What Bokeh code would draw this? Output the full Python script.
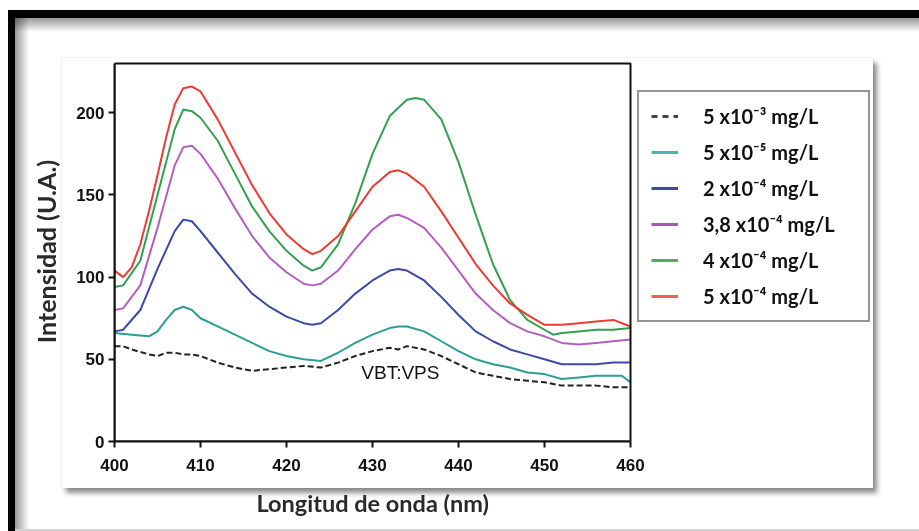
from bokeh.plotting import figure
from bokeh.models import Label, Legend, LegendItem, FixedTicker, Div, BoxAnnotation, Title
from bokeh.layouts import row
from bokeh.embed import file_html
from bokeh.resources import INLINE

# ---- data ----
x_black = [400, 401, 402, 404, 405, 406, 407, 408, 409, 410, 412, 414, 416, 418, 420, 422, 424, 426, 428, 430, 432, 433, 434, 436, 438, 440, 442, 444, 446, 448, 450, 452, 454, 456, 458, 460]
y_black = [58, 58, 56, 53, 52, 54, 54, 53, 53, 52, 48, 45, 43, 44, 45, 46, 45, 48, 52, 55, 57, 56, 58, 56, 52, 47, 42, 40, 38, 37, 36, 34, 34, 34, 33, 33]

x_teal = [400, 402, 404, 405, 406, 407, 408, 409, 410, 412, 414, 416, 418, 420, 422, 424, 426, 428, 430, 432, 433, 434, 436, 438, 440, 442, 444, 446, 448, 450, 452, 454, 456, 458, 459, 460]
y_teal = [66, 65, 64, 67, 74, 80, 82, 80, 75, 70, 65, 60, 55, 52, 50, 49, 54, 60, 65, 69, 70, 70, 67, 61, 55, 50, 47, 45, 42, 41, 38, 39, 40, 40, 40, 36]

x_blue = [400, 401, 403, 405, 407, 408, 409, 410, 412, 414, 416, 418, 420, 422, 423, 424, 426, 428, 430, 432, 433, 434, 436, 438, 440, 442, 444, 446, 448, 450, 452, 454, 456, 458, 460]
y_blue = [67, 68, 80, 105, 128, 135, 134, 128, 115, 102, 90, 82, 76, 72, 71, 72, 80, 90, 98, 104, 105, 104, 98, 88, 77, 67, 61, 56, 53, 50, 47, 47, 47, 48, 48]

x_purple = [400, 401, 403, 405, 407, 408, 409, 410, 412, 414, 416, 418, 420, 422, 423, 424, 426, 428, 430, 432, 433, 434, 436, 438, 440, 442, 444, 446, 448, 450, 452, 454, 456, 458, 460]
y_purple = [80, 81, 95, 130, 168, 179, 180, 175, 160, 142, 125, 112, 103, 96, 95, 96, 104, 117, 129, 137, 138, 136, 130, 118, 104, 90, 80, 72, 67, 64, 60, 59, 60, 61, 62]

x_green = [400, 401, 403, 405, 407, 408, 409, 410, 412, 414, 416, 418, 420, 422, 423, 424, 426, 428, 430, 432, 434, 435, 436, 438, 440, 442, 444, 446, 448, 450, 451, 452, 454, 456, 458, 460]
y_green = [94, 95, 110, 150, 190, 202, 201, 197, 183, 163, 143, 128, 116, 107, 104, 106, 120, 145, 175, 198, 208, 209, 208, 196, 170, 138, 108, 86, 74, 68, 65, 66, 67, 68, 68, 69]

x_red = [400, 401, 402, 403, 404, 405, 406, 407, 408, 409, 410, 412, 414, 416, 418, 420, 422, 423, 424, 426, 428, 430, 432, 433, 434, 436, 438, 440, 442, 444, 446, 448, 450, 452, 454, 456, 458, 460]
y_red = [104, 100, 106, 120, 140, 162, 185, 205, 215, 216, 213, 196, 176, 156, 139, 126, 117, 114, 116, 125, 140, 155, 164, 165, 163, 155, 140, 124, 108, 95, 84, 77, 71, 71, 72, 73, 74, 70]

labels = ["5 x10\u207b\u00b3 mg/L", "5 x10\u207b\u2075 mg/L", "2 x10\u207b\u2074 mg/L",
          "3,8 x10\u207b\u2074 mg/L", "4 x10\u207b\u2074 mg/L", "5 x10\u207b\u2074 mg/L"]
colors = ["#222222", "#2b9e98", "#3a4aa6", "#b45fbf", "#33a050", "#ef3a33"]
legend_colors = ["#444444", "#4fb3b3", "#3b4aa8", "#b353b8", "#4fae62", "#f0605a"]

x_ticks = [400, 410, 420, 430, 440, 450, 460]
y_ticks = [0, 50, 100, 150, 200]
x_lo, x_hi = 400, 460
y_lo, y_hi = 0, 230
x_title = "Longitud de onda (nm)"
y_title = "Intensidad (U.A.)"

# ---- layout geometry (pixels) ----
W, H = 880, 531
FL, FR, FT, FB = 114, 872, 61, 441          # frame edges; the axes box ends at x=630, y=63
px_per_nm = (630 - FL) / (x_hi - x_lo)
px_per_u = (FB - 63) / (y_hi - y_lo)

p = figure(width=W, height=H, output_backend="svg", toolbar_location=None,
           x_range=(x_lo, x_lo + (FR - FL) / px_per_nm),
           y_range=(y_lo, y_lo + (FB - FT) / px_per_u),
           min_border_left=FL, min_border_right=W - FR, min_border_top=FT, min_border_bottom=H - FB)
p.grid.visible = False
p.background_fill_color = None
p.border_fill_color = None
p.outline_line_color = None

# axes box (top and right edges)
p.add_layout(BoxAnnotation(left=x_lo, right=x_hi, bottom=y_lo, top=y_hi,
                           fill_alpha=0, line_color="#111111", line_alpha=1, line_width=2))

# ---- page decorations (black frame, panel with drop shadow), behind the figure ----
deco_html = """<div style="position:fixed;left:62px;top:58px;width:811px;height:430px;background:#fff;
 box-shadow:4px 5px 5px rgba(0,0,0,0.45), 0 0 2px rgba(0,0,0,0.15);z-index:-1"></div>
<div style="position:fixed;left:15px;top:18px;width:904px;height:14px;z-index:-1;
 background:linear-gradient(to bottom, rgba(0,0,0,0.40), rgba(0,0,0,0))"></div>
<div style="position:fixed;left:15px;top:18px;width:14px;height:513px;z-index:-1;
 background:linear-gradient(to right, rgba(0,0,0,0.40), rgba(0,0,0,0))"></div>
<div style="position:fixed;left:8px;top:10px;width:911px;height:8px;background:#000;z-index:-1"></div>
<div style="position:fixed;left:8px;top:10px;width:7px;height:521px;background:#000;z-index:-1"></div>
<div style="position:fixed;left:15px;top:529px;width:904px;height:2px;background:#d0d0d0;z-index:-1"></div>"""
deco = Div(text=deco_html, width=0, height=0)

# ---- curves ----
xs = [x_black, x_teal, x_blue, x_purple, x_green, x_red]
ys = [y_black, y_teal, y_blue, y_purple, y_green, y_red]
items = []
for i in range(6):
    p.line(xs[i], ys[i], line_color=colors[i], line_width=2,
           line_dash="6 3" if i == 0 else "solid")
    # legend swatch (off-range line, legend only)
    g = p.line([x_lo, x_lo], [-10, -10], line_color=legend_colors[i], line_width=3,
               line_dash="6 5" if i == 0 else "solid")
    items.append(LegendItem(label=labels[i], renderers=[g]))

legend = Legend(items=items, location=(637 - FL, FB - 322), orientation="vertical",
                border_line_color="#2a2a2a", border_line_width=2,
                background_fill_color="white", background_fill_alpha=1,
                label_text_font="Lato", label_text_font_style="bold",
                label_text_font_size="20px", label_text_color="#111111",
                glyph_width=27, glyph_height=24, label_height=24, label_standoff=25,
                spacing=12, padding=12, margin=0, label_width=153)
p.add_layout(legend, "center")

p.add_layout(Label(x=428.7, y=42, text="VBT:VPS", text_font="Liberation Sans",
                   text_font_size="19px", text_color="#111111", text_baseline="middle"))

# ---- axes ----
for ax in (p.xaxis[0], p.yaxis[0]):
    ax.axis_line_width = 2
    ax.axis_line_color = "#111111"
    ax.major_tick_line_width = 2
    ax.major_tick_line_color = "#111111"
    ax.major_tick_in = 0
    ax.major_tick_out = 6
    ax.minor_tick_line_color = None
    ax.major_label_text_font = "Liberation Sans"
    ax.major_label_text_font_style = "bold"
    ax.major_label_text_font_size = "17px"
    ax.major_label_text_color = "#111111"
    ax.axis_label_text_font = "Lato"
    ax.axis_label_text_font_style = "bold"
    ax.axis_label_text_color = "#2a2a2a"

p.xaxis.bounds = (x_lo, x_hi)
p.yaxis.bounds = (y_lo, y_hi)
p.yaxis.axis_label_text_font_size = "25px"
p.xaxis.ticker = FixedTicker(ticks=x_ticks)
p.yaxis.ticker = FixedTicker(ticks=y_ticks)
p.yaxis.axis_label = y_title
p.xaxis.major_label_standoff = 11
p.yaxis.major_label_standoff = 4
p.yaxis.axis_label_standoff = 12

# x-axis title, centred under the axes box (not under the wider frame)
p.add_layout(Title(text=x_title, align="left", offset=256 - FL, standoff=27,
                   text_font="Lato", text_font_style="bold", text_font_size="23.5px",
                   text_color="#2a2a2a"), "below")

layout = row(p, deco, spacing=0)
open("out.html", "w").write(file_html(layout, INLINE))
